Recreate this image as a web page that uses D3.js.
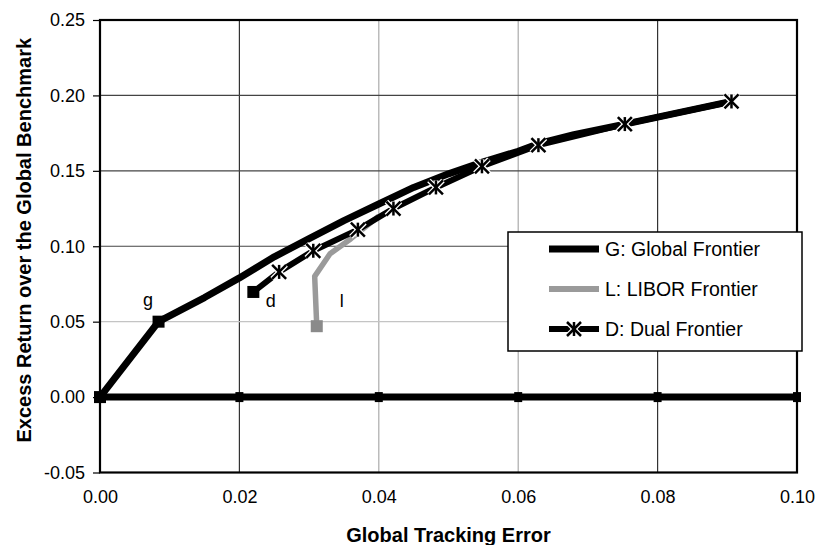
<!DOCTYPE html>
<html>
<head>
<meta charset="utf-8">
<script src="https://cdn.jsdelivr.net/npm/d3@7"></script>
<style>
  body { margin: 0; background: #fff; }
  text { font-family: "Liberation Sans", Arial, sans-serif; fill: #000; }
</style>
</head>
<body>
<div id="chart"></div>
<script>
// axis ticks
const xTickValues = [0, 0.02, 0.04, 0.06, 0.08, 0.10];
const yTickValues = [-0.05, 0, 0.05, 0.10, 0.15, 0.20, 0.25];

// G: Global Frontier
const globalTE  = [0, 0.0084, 0.015, 0.020, 0.025, 0.030, 0.035, 0.040, 0.045, 0.050, 0.055, 0.060, 0.0629, 0.068, 0.0753, 0.0906];
const globalRet = [0, 0.050, 0.066, 0.079, 0.093, 0.105, 0.117, 0.128, 0.139, 0.148, 0.156, 0.163, 0.168, 0.174, 0.181, 0.196];
const globalMarked = [0, 1];   // indexes with a square marker

// L: LIBOR Frontier
const liborTE  = [0.0311, 0.0308, 0.0330, 0.0360, 0.0400];
const liborRet = [0.047, 0.080, 0.095, 0.105, 0.120];

// D: Dual Frontier
const dualTE  = [0.0220, 0.0257, 0.0306, 0.0370, 0.0421, 0.0482, 0.0548, 0.0629, 0.0753, 0.0906];
const dualRet = [0.0697, 0.083, 0.097, 0.111, 0.125, 0.139, 0.153, 0.167, 0.181, 0.196];

// zero line
const zeroTE  = [0, 0.02, 0.04, 0.06, 0.08, 0.10];
const zeroRet = [0, 0, 0, 0, 0, 0];

// point labels
const pointLabels = ["g", "d", "l"];
const labelTE  = [0.0069, 0.0245, 0.0347];
const labelRet = [0.0603, 0.0595, 0.0595];

const legendNames = ["G: Global Frontier", "L: LIBOR Frontier", "D: Dual Frontier"];

const width = 818, height = 545;
const margin = {top: 20, right: 21, bottom: 72.5, left: 100};

const svg = d3.select("#chart").append("svg")
  .attr("width", width)
  .attr("height", height);

const x = d3.scaleLinear().domain([0, 0.10]).range([margin.left, width - margin.right]);
const y = d3.scaleLinear().domain([-0.05, 0.25]).range([height - margin.bottom, margin.top]);

const zip = (a, b) => a.map((v, i) => [v, b[i]]);
const line = d3.line().x(d => x(d[0])).y(d => y(d[1]));

// gridlines (scanned original shows alternating darkness)
const xGridDark = [0.02, 0.08];
svg.append("g").selectAll("line")
  .data(xTickValues.slice(1, -1))
  .join("line")
  .attr("x1", d => x(d)).attr("x2", d => x(d))
  .attr("y1", y(0.25)).attr("y2", y(-0.05))
  .attr("stroke", d => xGridDark.includes(d) ? "#333" : "#aaa")
  .attr("stroke-width", 1.2);

svg.append("g").selectAll("line")
  .data(yTickValues.slice(1, -1))
  .join("line")
  .attr("x1", x(0)).attr("x2", x(0.10))
  .attr("y1", d => y(d)).attr("y2", d => y(d))
  .attr("stroke", d => d === 0.05 ? "#c4c4c4" : "#444")
  .attr("stroke-width", 1.2);

// y axis
const yAxis = d3.axisLeft(y)
  .tickValues(yTickValues)
  .tickFormat(d => d3.format(".2f")(d).replace("−", "-"))
  .tickSize(7)
  .tickSizeOuter(0)
  .tickPadding(8);
const gy = svg.append("g").attr("transform", `translate(${x(0)},0)`).call(yAxis);
gy.select(".domain").remove();
gy.selectAll("line").attr("stroke", "#000").attr("stroke-width", 1.2);
gy.selectAll("text").style("font-size", "18px").style("font-family", "'Liberation Sans', Arial, sans-serif");

// x axis (labels only)
const xAxis = d3.axisBottom(x)
  .tickValues(xTickValues)
  .tickFormat(d3.format(".2f"))
  .tickSize(0)
  .tickPadding(18);
const gx = svg.append("g").attr("transform", `translate(0,${y(-0.05)})`).call(xAxis);
gx.select(".domain").remove();
gx.selectAll("text").style("font-size", "18px").style("font-family", "'Liberation Sans', Arial, sans-serif");

// plot frame
svg.append("rect")
  .attr("x", x(0)).attr("y", y(0.25))
  .attr("width", x(0.10) - x(0)).attr("height", y(-0.05) - y(0.25))
  .attr("fill", "none").attr("stroke", "#000").attr("stroke-width", 2.2);

// zero line
const zeroData = zip(zeroTE, zeroRet);
svg.append("path").datum(zeroData)
  .attr("d", line).attr("fill", "none")
  .attr("stroke", "#000").attr("stroke-width", 7);
svg.append("g").selectAll("rect")
  .data(zeroData)
  .join("rect")
  .attr("x", d => x(d[0]) - 4).attr("y", d => y(d[1]) - 5)
  .attr("width", 8).attr("height", 10).attr("fill", "#000");

// global frontier
const globalData = zip(globalTE, globalRet);
svg.append("path").datum(globalData)
  .attr("d", line).attr("fill", "none")
  .attr("stroke", "#000").attr("stroke-width", 7)
  .attr("stroke-linejoin", "round");
svg.append("g").selectAll("rect")
  .data(globalMarked.map(i => globalData[i]))
  .join("rect")
  .attr("x", d => x(d[0]) - 6).attr("y", d => y(d[1]) - 6)
  .attr("width", 12).attr("height", 12).attr("fill", "#000");

// LIBOR frontier
const liborData = zip(liborTE, liborRet);
svg.append("path").datum(liborData)
  .attr("d", line).attr("fill", "none")
  .attr("stroke", "#9a9a9a").attr("stroke-width", 5.5)
  .attr("stroke-linejoin", "round");
svg.append("rect")
  .attr("x", x(liborData[0][0]) - 6).attr("y", y(liborData[0][1]) - 6)
  .attr("width", 12).attr("height", 12).attr("fill", "#8a8a8a");

// dual frontier
const dualData = zip(dualTE, dualRet);
svg.append("path").datum(dualData)
  .attr("d", line).attr("fill", "none")
  .attr("stroke", "#000").attr("stroke-width", 6)
  .attr("stroke-linejoin", "round");
svg.append("rect")
  .attr("x", x(dualData[0][0]) - 6).attr("y", y(dualData[0][1]) - 6)
  .attr("width", 12).attr("height", 12).attr("fill", "#000");

function drawStar(g, cx, cy) {
  const s = 7;
  const segs = [[-s, -s, s, s], [-s, s, s, -s], [0, -s, 0, s]];
  segs.forEach(p => g.append("line")
    .attr("x1", cx + p[0]).attr("y1", cy + p[1]).attr("x2", cx + p[2]).attr("y2", cy + p[3])
    .attr("stroke", "#fff").attr("stroke-width", 5));
  segs.forEach(p => g.append("line")
    .attr("x1", cx + p[0]).attr("y1", cy + p[1]).attr("x2", cx + p[2]).attr("y2", cy + p[3])
    .attr("stroke", "#000").attr("stroke-width", 2.5));
}
const stars = svg.append("g");
dualData.slice(1).forEach(d => drawStar(stars, x(d[0]), y(d[1])));

// point labels
svg.append("g").selectAll("text")
  .data(pointLabels)
  .join("text")
  .attr("x", (d, i) => x(labelTE[i]))
  .attr("y", (d, i) => y(labelRet[i]))
  .attr("text-anchor", "middle")
  .style("font-size", "18px")
  .text(d => d);

// axis titles
svg.append("text")
  .attr("x", (x(0) + x(0.10)) / 2).attr("y", 542)
  .attr("text-anchor", "middle")
  .style("font-size", "20px").style("font-weight", "bold")
  .text("Global Tracking Error");

svg.append("text")
  .attr("transform", `translate(31,${(y(0.25) + y(-0.05)) / 2 - 6}) rotate(-90)`)
  .attr("text-anchor", "middle")
  .style("font-size", "20px").style("font-weight", "bold")
  .text("Excess Return over the Global Benchmark");

// legend
const legend = svg.append("g");
legend.append("rect")
  .attr("x", 508).attr("y", 232).attr("width", 294).attr("height", 119)
  .attr("fill", "#fff").attr("stroke", "#000").attr("stroke-width", 1.5);
const legendColors = ["#000", "#9a9a9a", "#000"];
const legendWidths = [7, 6, 6];
legendNames.forEach((name, i) => {
  const ry = 249 + i * 40;
  legend.append("line")
    .attr("x1", 549).attr("x2", 599).attr("y1", ry).attr("y2", ry)
    .attr("stroke", legendColors[i]).attr("stroke-width", legendWidths[i]);
  if (i === 2) drawStar(legend, 574, ry);
  legend.append("text")
    .attr("x", 605).attr("y", ry)
    .attr("dy", "0.36em")
    .style("font-size", "19.5px")
    .text(name);
});
</script>
</body>
</html>
